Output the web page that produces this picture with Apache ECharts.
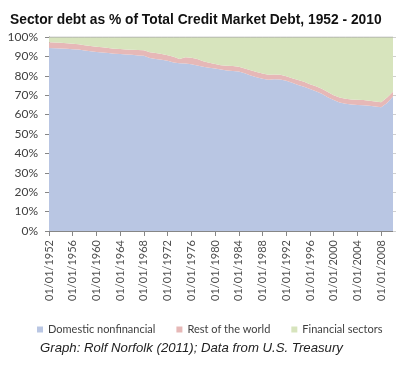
<!DOCTYPE html>
<html>
<head>
<meta charset="utf-8">
<script src="https://cdn.jsdelivr.net/npm/echarts@6/dist/echarts.min.js"></script>
<style>html,body{margin:0;padding:0;background:#fff}#c{width:400px;height:370px}</style>
</head>
<body>
<div id="c"></div>
<script>
const years = [1952,1953,1954,1955,1956,1957,1958,1959,1960,1961,1962,1963,1964,1965,1966,1967,1968,1969,1970,1971,1972,1973,1974,1975,1976,1977,1978,1979,1980,1981,1982,1983,1984,1985,1986,1987,1988,1989,1990,1991,1992,1993,1994,1995,1996,1997,1998,1999,2000,2001,2002,2003,2004,2005,2006,2007,2008,2009,2010];
const categories = years.map(y => '01/01/' + y);
const domesticNonfinancial = [
  94.3,94.2,94.1,93.9,93.7,93.5,93.1,92.7,
  92.3,92.0,91.7,91.4,91.2,91.0,90.8,90.5,90.3,89.2,
  88.6,88.3,87.7,86.9,86.5,86.3,85.9,85.3,84.7,84.2,
  83.7,83.2,82.7,82.5,82.2,81.3,80.2,79.3,78.5,78.0,
  78.2,78.1,77.4,76.4,75.3,74.4,73.2,72.0,70.7,69.0,
  67.5,66.3,65.6,65.2,64.9,64.8,64.5,64.2,63.8,66.0,69.3
];
const restOfWorld = [
  3.0,3.0,3.0,2.9,2.8,2.7,2.7,2.6,
  2.7,2.7,2.6,2.6,2.6,2.6,2.6,2.8,2.9,3.0,
  3.1,3.0,2.9,2.9,2.1,3.3,3.4,3.3,2.8,2.5,
  2.4,2.3,2.5,2.5,2.5,2.5,2.6,2.7,2.7,2.6,
  2.5,2.5,2.4,2.4,2.5,2.5,2.5,2.6,2.6,2.6,
  2.5,2.5,2.6,2.6,2.7,2.7,2.7,2.6,2.6,2.8,2.5
];
const financialSectors = [
  2.7,2.8,2.9,3.2,3.5,3.8,4.2,4.7,
  5.0,5.3,5.7,6.0,6.2,6.4,6.6,6.7,6.8,7.8,
  8.3,8.7,9.4,10.2,11.4,10.4,10.7,11.4,12.5,13.3,
  13.9,14.5,14.8,15.0,15.3,16.2,17.2,18.0,18.8,19.4,
  19.3,19.4,20.2,21.2,22.2,23.1,24.3,25.4,26.7,28.4,
  30.0,31.2,31.8,32.2,32.4,32.5,32.8,33.2,33.6,31.2,28.2
];
const seriesNames = ['Domestic nonfinancial','Rest of the world','Financial sectors'];
const colors = ['#B9C6E3','#E6B8B7','#D7E4BD'];

const chart = echarts.init(document.getElementById('c'), null, {renderer:'canvas'});
const font = 'Lato, "Open Sans", sans-serif';
function area(name, data, color, top) {
  return {
    name: name, type: 'line', stack: 'total', data: data,
    symbol: 'none', smooth: false,
    lineStyle: top ? {width: 1, color: '#A6A6A6'} : {width: 0},
    itemStyle: {color: color},
    areaStyle: {color: color, opacity: 1},
    emphasis: {disabled: true}
  };
}
chart.setOption({
  animation: false,
  backgroundColor: '#ffffff',
  title: [
    {text: 'Sector debt as % of Total Credit Market Debt, 1952 - 2010', left: 5, top: 8,
     textStyle: {fontFamily: '"Liberation Sans", Arial, sans-serif', fontWeight: 'bold', fontSize: 13.8, color: '#111'}},
    {text: 'Graph: Rolf Norfolk (2011); Data from U.S. Treasury', left: 35, top: 337,
     textStyle: {fontFamily: '"Liberation Sans", Arial, sans-serif', fontStyle: 'italic', fontWeight: 'normal', fontSize: 13.2, color: '#222'}}
  ],
  legend: {
    data: seriesNames, left: 32, top: 319, icon: 'rect', itemWidth: 6, itemHeight: 6, itemGap: 21,
    textStyle: {fontFamily: font, fontSize: 11, color: '#404040'}
  },
  grid: {left: 49, right: 7, top: 37, bottom: 139, containLabel: false},
  xAxis: {
    type: 'category', data: categories, boundaryGap: false,
    axisLine: {lineStyle: {color: '#868686'}},
    axisTick: {show: true, interval: 3, length: 5, lineStyle: {color: '#868686'}},
    axisLabel: {interval: 3, rotate: 90, margin: 9, fontFamily: font, fontSize: 11, color: '#505050'},
    splitLine: {show: false}
  },
  yAxis: [
    {type: 'value', min: 0, max: 100, interval: 10,
     axisLine: {show: true, lineStyle: {color: '#868686'}},
     axisTick: {show: true, length: 4, lineStyle: {color: '#868686'}},
     axisLabel: {formatter: '{value}%', margin: 11, fontFamily: font, fontSize: 12, color: '#404040'},
     splitLine: {show: false}},
    {type: 'value', min: 0, max: 100, interval: 10, position: 'right',
     axisLine: {show: false},
     axisTick: {show: true, length: 3, lineStyle: {color: '#D0D0D0'}},
     axisLabel: {show: false}, splitLine: {show: false}}
  ],
  series: [
    area(seriesNames[0], domesticNonfinancial, colors[0], false),
    area(seriesNames[1], restOfWorld, colors[1], false),
    area(seriesNames[2], financialSectors, colors[2], true)
  ]
});
</script>
</body>
</html>
